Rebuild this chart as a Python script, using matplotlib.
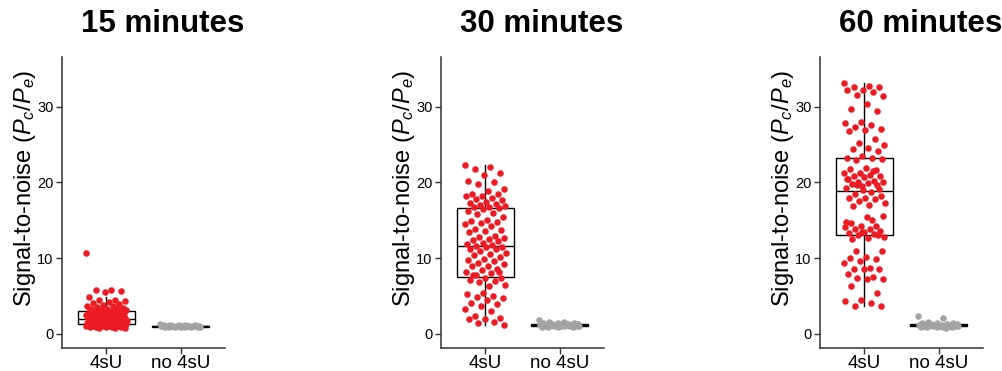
import numpy as np
import matplotlib.pyplot as plt

plt.rcParams['font.family'] = ['Liberation Sans', 'DejaVu Sans']
plt.rcParams['mathtext.fontset'] = 'custom'
plt.rcParams['mathtext.rm'] = 'Liberation Sans'
plt.rcParams['mathtext.it'] = 'Liberation Sans:italic'

titles = ['15 minutes', '30 minutes', '60 minutes']
groups = ['4sU', 'no 4sU']

# signal-to-noise values
snr_15_4su = [10.7, 5.8, 5.75, 5.6, 5.5, 4.9, 4.5, 4.4, 4.3, 4.2, 4.0, 3.9, 3.8,
              3.7, 3.6, 3.5, 3.4, 3.3, 3.3, 3.2, 3.1, 3.1, 3.05, 3.0, 3.0,
              2.92, 2.85, 2.83, 2.74, 2.7, 2.66, 2.61, 2.6, 2.52, 2.47, 2.44,
              2.36, 2.31, 2.27, 2.2, 2.18, 2.13, 2.08, 2.04, 2.0, 1.99, 1.95,
              1.93, 1.9, 1.87, 1.86, 1.82, 1.79, 1.77, 1.75, 1.71, 1.7, 1.67,
              1.65, 1.61, 1.6, 1.57, 1.55, 1.51, 1.5, 1.48, 1.46, 1.43, 1.42,
              1.4, 1.38, 1.36, 1.35, 1.34, 2.23,
              1.31, 1.28, 1.26, 1.22, 1.2, 1.19, 1.15, 1.12, 1.1, 1.09, 1.05,
              1.03, 1.0, 0.98, 0.96, 0.92, 0.9, 0.89, 0.85, 0.83, 0.8, 0.78,
              0.76, 1.27, 1.11]
snr_15_no = [1.22, 1.18, 1.15, 1.12, 1.1, 1.08, 1.06, 1.05, 1.03, 1.02, 1.0,
             1.0, 0.99, 0.98, 0.97, 0.96, 0.95, 0.94, 0.93, 0.92, 0.9, 0.89,
             0.88, 0.86, 1.01, 1.04, 0.97, 1.07, 0.95, 0.91]

snr_30_4su = [22.3, 22.0, 21.8, 21.2, 21.0, 20.2, 20.0, 19.8, 19.1, 18.9, 18.5,
              18.5, 18.2, 18.2, 18.0, 17.8, 17.7, 17.4, 17.3, 17.1, 17.0, 16.9,
              16.8, 16.7, 16.6, 16.5, 16.2, 16.0, 15.8, 15.4, 15.1, 14.9, 14.8,
              14.7, 14.5, 14.3, 13.8, 13.7, 13.6, 13.4, 12.9, 12.8, 12.7, 12.5,
              12.4, 12.3, 12.0, 11.8, 11.7, 11.6, 11.5, 11.4, 11.2, 11.2, 10.9,
              10.7, 10.5, 10.4, 10.2, 9.9, 9.8, 9.6, 9.4, 9.2, 8.9, 8.9, 8.6,
              8.4, 8.1, 8.0, 7.7, 7.4, 7.3, 7.1, 6.9, 6.8, 6.5, 6.3, 7.8, 8.2,
              5.4, 5.3, 5.0, 4.9, 4.7, 4.5, 4.0, 3.9, 3.7, 3.2, 3.0, 2.3, 2.1,
              1.9, 1.9, 1.6, 1.4, 1.2]
snr_30_no = [1.8, 1.6, 1.5, 1.45, 1.4, 1.35, 1.3, 1.28, 1.25, 1.22, 1.2, 1.18,
             1.15, 1.13, 1.12, 1.1, 1.08, 1.06, 1.05, 1.03, 1.0, 0.98, 0.95,
             0.93, 0.9, 0.88, 0.85, 1.17, 1.09, 1.02]

snr_60_4su = [33.2, 32.8, 32.6, 32.6, 32.3, 32.3, 32.0, 31.6, 31.4, 30.4, 29.7,
              29.4, 28.0, 27.9, 27.6, 27.3, 27.1, 27.0, 26.8, 25.7, 25.2, 24.9,
              24.6, 24.4, 24.2, 23.5, 23.3, 23.2, 23.0, 23.1, 21.9, 21.8, 21.6,
              21.3, 21.2, 21.0, 20.9, 20.8, 20.7, 20.4, 20.2, 20.1, 20.0, 19.9,
              19.8, 19.6, 19.5, 19.3, 18.7, 18.5, 18.2, 18.0, 18.0, 17.8, 17.5,
              17.3, 17.0, 16.9, 19.2, 19.0, 20.5, 21.5, 19.7, 15.6, 15.4, 14.6,
              14.2, 14.2, 14.1, 13.9, 13.8, 13.6, 13.4, 13.3, 13.2, 13.0, 12.8,
              12.7, 12.5, 13.1, 13.5, 14.8, 15.0, 10.9, 10.9, 10.2, 10.0, 9.9,
              9.6, 9.3, 8.7, 8.5, 8.5, 8.5, 7.9, 7.5, 7.4, 7.2, 7.2, 6.3, 5.4,
              4.5, 4.3, 4.1, 3.6, 3.6]
snr_60_no = [2.3, 2.1, 1.6, 1.45, 1.4, 1.35, 1.3, 1.25, 1.22, 1.2, 1.18, 1.15,
             1.13, 1.12, 1.1, 1.08, 1.06, 1.05, 1.03, 1.0, 0.98, 0.95, 0.92,
             0.9, 0.88, 0.85, 0.82, 0.8, 1.16, 1.09, 1.01, 0.96]

panels = [(snr_15_4su, snr_15_no), (snr_30_4su, snr_30_no),
          (snr_60_4su, snr_60_no)]

red = '#ED1C24'
grey = '#A3A3A3'
axis_col = '#333333'

fig = plt.figure(figsize=(10.03, 3.71), dpi=100)
lefts = [62, 441, 820]

for left, title, (a, b) in zip(lefts, titles, panels):
    ax = fig.add_axes([left / 1003, 23 / 371, 163 / 1003, 291 / 371])

    ax.boxplot([a, b], positions=[1, 2], widths=0.76, showfliers=False,
               showcaps=False, patch_artist=True, zorder=1,
               boxprops={'facecolor': 'white', 'edgecolor': 'black',
                         'linewidth': 1.0},
               medianprops={'color': 'black', 'linewidth': 1.0},
               whiskerprops={'color': 'black', 'linewidth': 1.0})

    # deterministic horizontal jitter
    for pos, vals, col in [(1, a, red), (2, b, grey)]:
        n = len(vals)
        off = ((np.arange(n) * 0.6180339887) % 1 - 0.5) * 0.56
        ax.scatter(pos + off, vals, s=22, color=col, linewidths=0, zorder=2)

    ax.set_xlim(0.4, 2.6)
    ax.set_ylim(-1.9, 36.6)
    ax.set_xticks([1, 2])
    ax.set_xticklabels(groups, fontsize=13.5)
    ax.set_yticks([0, 10, 20, 30])
    ax.tick_params(axis='y', labelsize=10.5, length=4, width=1,
                   color=axis_col, pad=2)
    ax.tick_params(axis='x', length=4, width=1, color=axis_col, pad=1)
    for side in ['top', 'right']:
        ax.spines[side].set_visible(False)
    for side in ['left', 'bottom']:
        ax.spines[side].set_color(axis_col)
        ax.spines[side].set_linewidth(1.1)

    ax.set_ylabel(r'Signal-to-noise ($P_c/P_e$)', fontsize=17)
    ax.yaxis.set_label_coords(-0.148, 0.55)

    fig.text((left + 81.5 + 19) / 1003, 1 - 24 / 371, title, fontsize=22.5,
             fontweight='bold', ha='center', va='center')

fig.savefig('out.png', dpi=100)
